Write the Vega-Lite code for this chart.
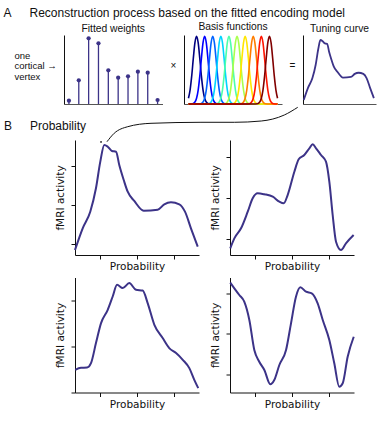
{
  "$schema": "https://vega.github.io/schema/vega-lite/v6.json",
  "padding": {"left": 3, "top": 6, "right": 0, "bottom": 0},
  "bounds": "flush",
  "spacing": 105,
  "config": {
    "view": {"stroke": null},
    "axis": {"grid": false, "labels": false, "ticks": false, "domainColor": "#111111", "domainWidth": 1, "tickColor": "#111111", "tickWidth": 1, "tickSize": 4, "titleFont": "DejaVu Sans", "titleFontSize": 10.5, "titleFontWeight": "normal", "titleColor": "#111111"},
    "title": {"font": "Liberation Sans", "fontWeight": "normal", "color": "#111111"}
  },
  "datasets": {
    "weights": [
      {"basis": 1, "w": 0.048}, {"basis": 2, "w": 0.343}, {"basis": 3, "w": 0.952}, {"basis": 4, "w": 0.88}, {"basis": 5, "w": 0.488},
      {"basis": 6, "w": 0.381}, {"basis": 7, "w": 0.401}, {"basis": 8, "w": 0.468}, {"basis": 9, "w": 0.454}, {"basis": 10, "w": 0.058}
    ],
    "basis": [
      {"k":1,"x":0,"v":0.085},{"k":1,"x":0.2,"v":0.206},{"k":1,"x":0.4,"v":0.411},{"k":1,"x":0.6,"v":0.674},{"k":1,"x":0.8,"v":0.906},{"k":1,"x":1,"v":1},{"k":1,"x":1.2,"v":0.906},{"k":1,"x":1.4,"v":0.674},{"k":1,"x":1.6,"v":0.411},{"k":1,"x":1.8,"v":0.206},{"k":1,"x":2,"v":0.085},{"k":1,"x":2.2,"v":0.029},{"k":1,"x":2.5,"v":0.004},{"k":1,"x":3,"v":0},{"k":1,"x":11,"v":0},
      {"k":2,"x":0,"v":0},{"k":2,"x":0.5,"v":0.004},{"k":2,"x":0.8,"v":0.029},{"k":2,"x":1,"v":0.085},{"k":2,"x":1.2,"v":0.206},{"k":2,"x":1.4,"v":0.411},{"k":2,"x":1.6,"v":0.674},{"k":2,"x":1.8,"v":0.906},{"k":2,"x":2,"v":1},{"k":2,"x":2.2,"v":0.906},{"k":2,"x":2.4,"v":0.674},{"k":2,"x":2.6,"v":0.411},{"k":2,"x":2.8,"v":0.206},{"k":2,"x":3,"v":0.085},{"k":2,"x":3.2,"v":0.029},{"k":2,"x":3.5,"v":0.004},{"k":2,"x":4,"v":0},{"k":2,"x":11,"v":0},
      {"k":3,"x":0,"v":0},{"k":3,"x":1,"v":0},{"k":3,"x":1.5,"v":0.004},{"k":3,"x":1.8,"v":0.029},{"k":3,"x":2,"v":0.085},{"k":3,"x":2.2,"v":0.206},{"k":3,"x":2.4,"v":0.411},{"k":3,"x":2.6,"v":0.674},{"k":3,"x":2.8,"v":0.906},{"k":3,"x":3,"v":1},{"k":3,"x":3.2,"v":0.906},{"k":3,"x":3.4,"v":0.674},{"k":3,"x":3.6,"v":0.411},{"k":3,"x":3.8,"v":0.206},{"k":3,"x":4,"v":0.085},{"k":3,"x":4.2,"v":0.029},{"k":3,"x":4.5,"v":0.004},{"k":3,"x":5,"v":0},{"k":3,"x":11,"v":0},
      {"k":4,"x":0,"v":0},{"k":4,"x":2,"v":0},{"k":4,"x":2.5,"v":0.004},{"k":4,"x":2.8,"v":0.029},{"k":4,"x":3,"v":0.085},{"k":4,"x":3.2,"v":0.206},{"k":4,"x":3.4,"v":0.411},{"k":4,"x":3.6,"v":0.674},{"k":4,"x":3.8,"v":0.906},{"k":4,"x":4,"v":1},{"k":4,"x":4.2,"v":0.906},{"k":4,"x":4.4,"v":0.674},{"k":4,"x":4.6,"v":0.411},{"k":4,"x":4.8,"v":0.206},{"k":4,"x":5,"v":0.085},{"k":4,"x":5.2,"v":0.029},{"k":4,"x":5.5,"v":0.004},{"k":4,"x":6,"v":0},{"k":4,"x":11,"v":0},
      {"k":5,"x":0,"v":0},{"k":5,"x":3,"v":0},{"k":5,"x":3.5,"v":0.004},{"k":5,"x":3.8,"v":0.029},{"k":5,"x":4,"v":0.085},{"k":5,"x":4.2,"v":0.206},{"k":5,"x":4.4,"v":0.411},{"k":5,"x":4.6,"v":0.674},{"k":5,"x":4.8,"v":0.906},{"k":5,"x":5,"v":1},{"k":5,"x":5.2,"v":0.906},{"k":5,"x":5.4,"v":0.674},{"k":5,"x":5.6,"v":0.411},{"k":5,"x":5.8,"v":0.206},{"k":5,"x":6,"v":0.085},{"k":5,"x":6.2,"v":0.029},{"k":5,"x":6.5,"v":0.004},{"k":5,"x":7,"v":0},{"k":5,"x":11,"v":0},
      {"k":6,"x":0,"v":0},{"k":6,"x":4,"v":0},{"k":6,"x":4.5,"v":0.004},{"k":6,"x":4.8,"v":0.029},{"k":6,"x":5,"v":0.085},{"k":6,"x":5.2,"v":0.206},{"k":6,"x":5.4,"v":0.411},{"k":6,"x":5.6,"v":0.674},{"k":6,"x":5.8,"v":0.906},{"k":6,"x":6,"v":1},{"k":6,"x":6.2,"v":0.906},{"k":6,"x":6.4,"v":0.674},{"k":6,"x":6.6,"v":0.411},{"k":6,"x":6.8,"v":0.206},{"k":6,"x":7,"v":0.085},{"k":6,"x":7.2,"v":0.029},{"k":6,"x":7.5,"v":0.004},{"k":6,"x":8,"v":0},{"k":6,"x":11,"v":0},
      {"k":7,"x":0,"v":0},{"k":7,"x":5,"v":0},{"k":7,"x":5.5,"v":0.004},{"k":7,"x":5.8,"v":0.029},{"k":7,"x":6,"v":0.085},{"k":7,"x":6.2,"v":0.206},{"k":7,"x":6.4,"v":0.411},{"k":7,"x":6.6,"v":0.674},{"k":7,"x":6.8,"v":0.906},{"k":7,"x":7,"v":1},{"k":7,"x":7.2,"v":0.906},{"k":7,"x":7.4,"v":0.674},{"k":7,"x":7.6,"v":0.411},{"k":7,"x":7.8,"v":0.206},{"k":7,"x":8,"v":0.085},{"k":7,"x":8.2,"v":0.029},{"k":7,"x":8.5,"v":0.004},{"k":7,"x":9,"v":0},{"k":7,"x":11,"v":0},
      {"k":8,"x":0,"v":0},{"k":8,"x":6,"v":0},{"k":8,"x":6.5,"v":0.004},{"k":8,"x":6.8,"v":0.029},{"k":8,"x":7,"v":0.085},{"k":8,"x":7.2,"v":0.206},{"k":8,"x":7.4,"v":0.411},{"k":8,"x":7.6,"v":0.674},{"k":8,"x":7.8,"v":0.906},{"k":8,"x":8,"v":1},{"k":8,"x":8.2,"v":0.906},{"k":8,"x":8.4,"v":0.674},{"k":8,"x":8.6,"v":0.411},{"k":8,"x":8.8,"v":0.206},{"k":8,"x":9,"v":0.085},{"k":8,"x":9.2,"v":0.029},{"k":8,"x":9.5,"v":0.004},{"k":8,"x":10,"v":0},{"k":8,"x":11,"v":0},
      {"k":9,"x":0,"v":0},{"k":9,"x":7,"v":0},{"k":9,"x":7.5,"v":0.004},{"k":9,"x":7.8,"v":0.029},{"k":9,"x":8,"v":0.085},{"k":9,"x":8.2,"v":0.206},{"k":9,"x":8.4,"v":0.411},{"k":9,"x":8.6,"v":0.674},{"k":9,"x":8.8,"v":0.906},{"k":9,"x":9,"v":1},{"k":9,"x":9.2,"v":0.906},{"k":9,"x":9.4,"v":0.674},{"k":9,"x":9.6,"v":0.411},{"k":9,"x":9.8,"v":0.206},{"k":9,"x":10,"v":0.085},{"k":9,"x":10.2,"v":0.029},{"k":9,"x":10.5,"v":0.004},{"k":9,"x":11,"v":0},
      {"k":10,"x":0,"v":0},{"k":10,"x":8,"v":0},{"k":10,"x":8.5,"v":0.004},{"k":10,"x":8.8,"v":0.029},{"k":10,"x":9,"v":0.085},{"k":10,"x":9.2,"v":0.206},{"k":10,"x":9.4,"v":0.411},{"k":10,"x":9.6,"v":0.674},{"k":10,"x":9.8,"v":0.906},{"k":10,"x":10,"v":1},{"k":10,"x":10.2,"v":0.906},{"k":10,"x":10.4,"v":0.674},{"k":10,"x":10.6,"v":0.411},{"k":10,"x":10.8,"v":0.206},{"k":10,"x":11,"v":0.085}
    ],
    "tl": [
      {"p":0,"a":0.838},{"p":0.062,"a":1.395},{"p":0.123,"a":1.821},{"p":0.169,"a":2.421},{"p":0.204,"a":3.103},{"p":0.236,"a":3.531},{"p":0.264,"a":3.487},{"p":0.298,"a":3.377},{"p":0.331,"a":3.359},{"p":0.357,"a":3.018},{"p":0.393,"a":2.633},{"p":0.425,"a":2.333},{"p":0.478,"a":2.095},{"p":0.554,"a":1.846},{"p":0.667,"a":1.872},{"p":0.72,"a":2.01},{"p":0.774,"a":2.062},{"p":0.841,"a":2.01},{"p":0.887,"a":1.821},{"p":0.935,"a":1.395},{"p":0.99,"a":0.923}
    ],
    "tr": [
      {"p":0.002,"a":0.78},{"p":0.035,"a":1.024},{"p":0.089,"a":1.268},{"p":0.143,"a":1.673},{"p":0.183,"a":2.0},{"p":0.223,"a":2.122},{"p":0.277,"a":2.098},{"p":0.345,"a":2.039},{"p":0.398,"a":1.917},{"p":0.433,"a":1.878},{"p":0.465,"a":2.08},{"p":0.519,"a":2.649},{"p":0.554,"a":2.951},{"p":0.599,"a":3.056},{"p":0.64,"a":3.22},{"p":0.667,"a":3.317},{"p":0.694,"a":3.22},{"p":0.734,"a":3.056},{"p":0.774,"a":2.893},{"p":0.801,"a":2.405},{"p":0.828,"a":1.593},{"p":0.855,"a":0.941},{"p":0.895,"a":0.739},{"p":0.935,"a":0.902},{"p":0.997,"a":1.105}
    ],
    "bl": [
      {"p":0.002,"a":1.493},{"p":0.048,"a":1.537},{"p":0.097,"a":1.543},{"p":0.129,"a":1.639},{"p":0.169,"a":2.074},{"p":0.21,"a":2.509},{"p":0.264,"a":2.798},{"p":0.304,"a":3.087},{"p":0.339,"a":3.341},{"p":0.385,"a":3.27},{"p":0.438,"a":3.378},{"p":0.492,"a":3.233},{"p":0.546,"a":3.217},{"p":0.586,"a":2.943},{"p":0.64,"a":2.472},{"p":0.707,"a":2.183},{"p":0.76,"a":1.965},{"p":0.815,"a":1.857},{"p":0.869,"a":1.711},{"p":0.922,"a":1.53},{"p":0.962,"a":1.276},{"p":0.994,"a":1.096}
    ],
    "br": [
      {"p":0.002,"a":3.262},{"p":0.035,"a":3.123},{"p":0.075,"a":2.958},{"p":0.115,"a":2.793},{"p":0.156,"a":2.341},{"p":0.196,"a":1.6},{"p":0.236,"a":1.311},{"p":0.277,"a":1.106},{"p":0.325,"a":0.753},{"p":0.357,"a":0.859},{"p":0.398,"a":1.23},{"p":0.452,"a":1.6},{"p":0.492,"a":2.259},{"p":0.532,"a":2.916},{"p":0.567,"a":3.148},{"p":0.613,"a":3.04},{"p":0.659,"a":3.0},{"p":0.707,"a":2.753},{"p":0.748,"a":2.341},{"p":0.801,"a":1.847},{"p":0.841,"a":1.272},{"p":0.881,"a":0.694},{"p":0.909,"a":0.778},{"p":0.949,"a":1.435},{"p":0.998,"a":1.928}
    ],
    "connector": [
      {"p":1.796,"a":4.497},{"p":1.688,"a":4.3},{"p":1.502,"a":4.146},{"p":1.285,"a":4.113},{"p":1.016,"a":4.113},{"p":0.613,"a":4.087},{"p":0.425,"a":4.0},{"p":0.316,"a":3.831},{"p":0.258,"a":3.615}
    ],
    "peakdot": [{"p":0.21,"a":3.61}]
  },
  "vconcat": [
    {
      "title": {"text": "A\u2003\u2002Reconstruction process based on the fitted encoding model", "anchor": "start", "frame": "group", "dx": -60.5, "fontSize": 12, "baseline": "alphabetic", "offset": -7},
      "bounds": "flush",
      "spacing": 21,
      "hconcat": [
        {
          "data": {"name": "weights"},
          "width": 98.5,
          "height": 69,
          "title": {"text": "Fitted weights", "fontSize": 10.3, "anchor": "middle", "frame": "group", "baseline": "alphabetic", "offset": -7},
          "layer": [
            {
              "mark": {"type": "rule", "color": "#3c3388", "strokeWidth": 1.3},
              "encoding": {
                "x": {"field": "basis", "type": "quantitative", "scale": {"domain": [0.5, 10.5], "nice": false, "zero": false}, "axis": {"title": null, "domainColor": "#555555"}},
                "y": {"field": "w", "type": "quantitative", "scale": {"domain": [0, 1], "nice": false}, "axis": {"title": ["one", "cortical \u2192", "vertex"], "titleAngle": 0, "titleAlign": "left", "titleBaseline": "middle", "titleX": -50, "titleY": 20, "titleFont": "Liberation Sans", "titleFontSize": 9.5, "titleLineHeight": 10.5}},
                "y2": {"datum": 0}
              }
            },
            {
              "mark": {"type": "circle", "color": "#3c3388", "size": 18, "opacity": 1},
              "encoding": {
                "x": {"field": "basis", "type": "quantitative"},
                "y": {"field": "w", "type": "quantitative"}
              }
            }
          ]
        },
        {
          "data": {"name": "basis"},
          "width": 98,
          "height": 69,
          "title": {"text": "Basis functions", "fontSize": 10.3, "anchor": "middle", "frame": "group", "baseline": "alphabetic", "offset": -7},
          "mark": {"type": "line", "interpolate": "monotone", "strokeWidth": 1.6},
          "encoding": {
            "x": {"field": "x", "type": "quantitative", "scale": {"domain": [-0.55, 11.55], "nice": false, "zero": false}, "axis": {"title": null, "domainColor": "#555555"}},
            "y": {"field": "v", "type": "quantitative", "scale": {"domain": [0, 1.02], "nice": false}, "axis": {"title": "\u00d7", "titleAngle": 0, "titleAlign": "center", "titleBaseline": "middle", "titleX": -11, "titleY": 30, "titleFont": "Liberation Sans", "titleFontSize": 10}},
            "color": {"field": "k", "type": "nominal", "scale": {"domain": [1,2,3,4,5,6,7,8,9,10], "range": ["#000080", "#0000ff", "#0063ff", "#00d4ff", "#4dffaa", "#a9ff4d", "#ffe600", "#ff7d00", "#ff1400", "#800000"]}, "legend": null}
          }
        },
        {
          "data": {"name": "tl"},
          "width": 73,
          "height": 69,
          "title": {"text": "Tuning curve", "fontSize": 10.3, "anchor": "middle", "frame": "group", "baseline": "alphabetic", "offset": -7},
          "mark": {"type": "line", "interpolate": "monotone", "color": "#3c3388", "strokeWidth": 1.8},
          "encoding": {
            "x": {"field": "p", "type": "quantitative", "scale": {"domain": [-0.01, 1.02], "nice": false, "zero": false}, "axis": {"title": null, "domainColor": "#555555"}},
            "y": {"field": "a", "type": "quantitative", "scale": {"domain": [0.659, 3.755], "nice": false, "zero": false}, "axis": {"title": "=", "titleAngle": 0, "titleAlign": "center", "titleBaseline": "middle", "titleX": -11, "titleY": 30, "titleFont": "Liberation Sans", "titleFontSize": 10}}
          }
        }
      ]
    },
    {
      "bounds": "flush",
      "spacing": 0,
      "hconcat": [
        {
          "data": {"values": [{}]},
          "width": 10.5,
          "height": 1,
          "title": {"text": "B\u2003\u2002Probability", "anchor": "start", "frame": "group", "dx": -60, "fontSize": 12, "baseline": "alphabetic", "offset": -1.6},
          "mark": {"type": "point", "opacity": 0, "size": 0}
        },
        {
          "bounds": "flush",
          "spacing": 137.5,
          "vconcat": [
            {
              "bounds": "flush",
              "spacing": 31,
              "hconcat": [
                {
                  "width": 124,
                  "height": 115,
                  "layer": [
                    {
                      "data": {"name": "tl"},
                      "mark": {"type": "line", "interpolate": "monotone", "color": "#3c3388", "strokeWidth": 2},
                      "encoding": {
                        "x": {"field": "p", "type": "quantitative", "scale": {"domain": [0, 1], "nice": false, "zero": false}, "axis": {"title": "Probability", "ticks": true, "values": [0.2, 0.5, 0.8], "titlePadding": 2}},
                        "y": {"field": "a", "type": "quantitative", "scale": {"domain": [0.71, 3.659], "nice": false, "zero": false}, "axis": {"title": "fMRI activity", "ticks": true, "values": [1, 2, 3], "titlePadding": 5}}
                      }
                    },
                    {
                      "data": {"name": "connector"},
                      "mark": {"type": "line", "interpolate": "monotone", "color": "#111111", "strokeWidth": 1, "clip": false},
                      "encoding": {
                        "x": {"field": "p", "type": "quantitative"},
                        "y": {"field": "a", "type": "quantitative"}
                      }
                    },
                    {
                      "data": {"name": "peakdot"},
                      "mark": {"type": "circle", "color": "#111111", "size": 3, "opacity": 1},
                      "encoding": {
                        "x": {"field": "p", "type": "quantitative"},
                        "y": {"field": "a", "type": "quantitative"}
                      }
                    }
                  ]
                },
                {
                  "data": {"name": "tr"},
                  "width": 124,
                  "height": 115,
                  "mark": {"type": "line", "interpolate": "monotone", "color": "#3c3388", "strokeWidth": 2},
                  "encoding": {
                    "x": {"field": "p", "type": "quantitative", "scale": {"domain": [0, 1], "nice": false, "zero": false}, "axis": {"title": "Probability", "ticks": true, "values": [0.2, 0.5, 0.8], "titlePadding": 2}},
                    "y": {"field": "a", "type": "quantitative", "scale": {"domain": [0.617, 3.422], "nice": false, "zero": false}, "axis": {"title": "fMRI activity", "ticks": true, "values": [1, 2, 3], "titlePadding": 5}}
                  }
                }
              ]
            },
            {
              "bounds": "flush",
              "spacing": 31,
              "hconcat": [
                {
                  "data": {"name": "bl"},
                  "width": 124,
                  "height": 115,
                  "mark": {"type": "line", "interpolate": "monotone", "color": "#3c3388", "strokeWidth": 2},
                  "encoding": {
                    "x": {"field": "p", "type": "quantitative", "scale": {"domain": [0, 1], "nice": false, "zero": false}, "axis": {"title": "Probability", "ticks": true, "values": [0.2, 0.5, 0.8], "titlePadding": 2}},
                    "y": {"field": "a", "type": "quantitative", "scale": {"domain": [1.0, 3.5], "nice": false, "zero": false}, "axis": {"title": "fMRI activity", "ticks": true, "values": [1, 2, 3], "titlePadding": 5}}
                  }
                },
                {
                  "data": {"name": "br"},
                  "width": 124,
                  "height": 115,
                  "mark": {"type": "line", "interpolate": "monotone", "color": "#3c3388", "strokeWidth": 2},
                  "encoding": {
                    "x": {"field": "p", "type": "quantitative", "scale": {"domain": [0, 1], "nice": false, "zero": false}, "axis": {"title": "Probability", "ticks": true, "values": [0.2, 0.5, 0.8], "titlePadding": 2}},
                    "y": {"field": "a", "type": "quantitative", "scale": {"domain": [0.551, 3.39], "nice": false, "zero": false}, "axis": {"title": "fMRI activity", "ticks": true, "values": [1, 2, 3], "titlePadding": 5}}
                  }
                }
              ]
            }
          ]
        }
      ]
    }
  ]
}
